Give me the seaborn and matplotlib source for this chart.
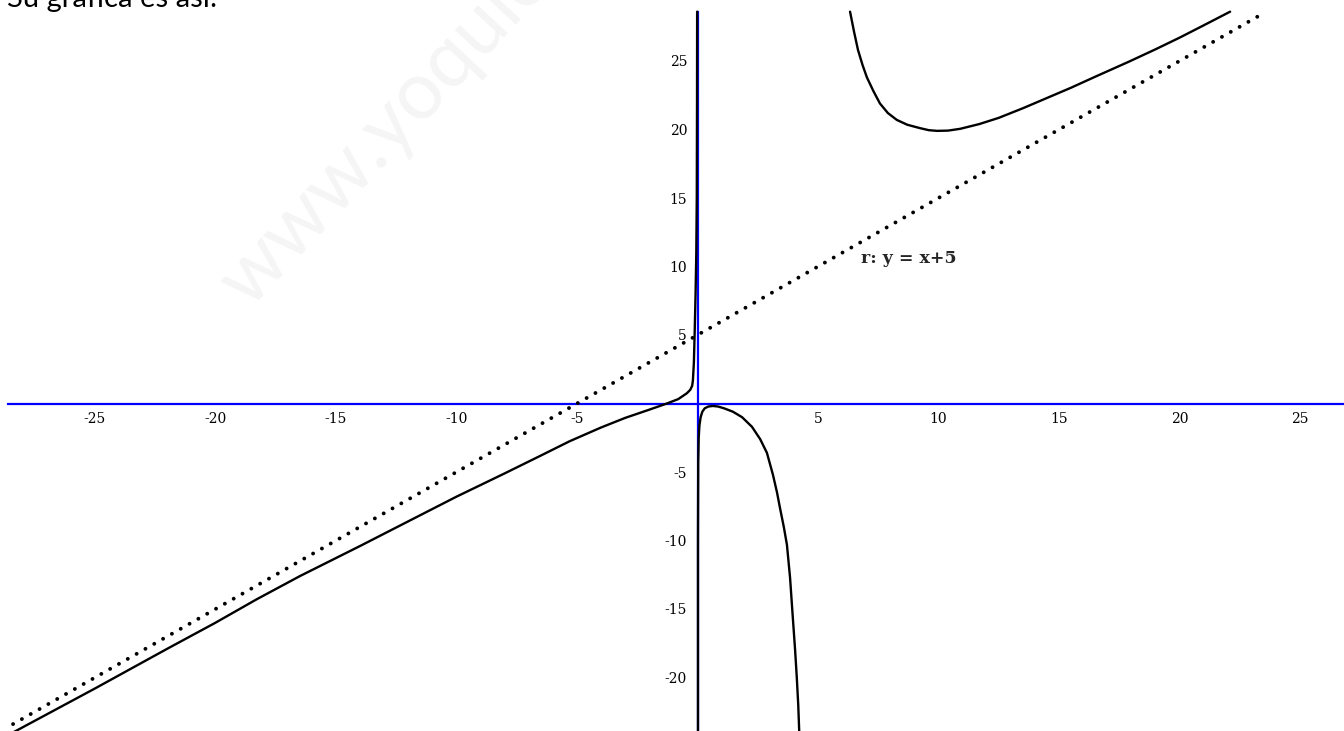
import matplotlib
matplotlib.use("Agg")
import matplotlib.pyplot as plt
import seaborn as sns
import pandas as pd

# ---- data ----
# left branch (x < 0)
left_x = [-28.6, -25.0, -22.0, -20.0, -18.3, -16.5, -14.0, -12.0, -10.0, -8.0,
          -6.5, -5.3, -4.0, -3.0, -2.0, -1.27, -0.8, -0.44, -0.3, -0.22, -0.19,
          -0.15, -0.12, -0.08, -0.05, -0.03, -0.02, -0.015]
left_y = [-24.2, -20.8, -17.9, -16.0, -14.3, -12.6, -10.4, -8.6, -6.8, -5.1,
          -3.8, -2.75, -1.75, -1.05, -0.45, 0.0, 0.32, 0.75, 1.0, 1.3, 1.7,
          3.0, 5.0, 8.0, 11.0, 15.0, 22.0, 28.6]
# lower branch (0 < x < 5)
mid_x = [0.02, 0.02, 0.03, 0.05, 0.08, 0.13, 0.2, 0.3, 0.45, 0.64, 0.85, 1.1,
         1.47, 1.85, 2.26, 2.6, 2.88, 3.13, 3.3, 3.42, 3.58, 3.71, 3.84, 3.95,
         4.05, 4.12, 4.18, 4.22]
mid_y = [-23.9, -10.0, -4.3, -2.5, -1.6, -1.0, -0.6, -0.35, -0.22, -0.18, -0.22,
         -0.35, -0.6, -1.0, -1.7, -2.6, -3.6, -5.2, -6.5, -7.6, -9.0, -10.3,
         -12.7, -15.5, -18.0, -20.0, -22.0, -23.9]
# upper branch (x > 5)
right_x = [6.33, 6.5, 6.66, 6.85, 7.03, 7.3, 7.57, 7.9, 8.27, 8.7, 9.23, 9.6,
           9.94, 10.4, 10.9, 11.7, 12.5, 13.5, 14.5, 15.5, 16.5, 17.9, 19.0,
           20.0, 21.0, 22.1]
right_y = [28.6, 27.1, 25.8, 24.7, 23.8, 22.8, 21.9, 21.2, 20.7, 20.35, 20.1,
           19.95, 19.9, 19.92, 20.05, 20.4, 20.85, 21.55, 22.3, 23.05, 23.85,
           24.95, 25.85, 26.7, 27.6, 28.6]
# oblique asymptote r: y = x + 5
asym_x = [-28.4, 23.5]
asym_y = [-23.4, 28.5]

xtick_vals = [-25, -20, -15, -10, -5, 5, 10, 15, 20, 25]
ytick_vals = [-20, -15, -10, -5, 5, 10, 15, 20, 25]
xtick_labels = ["-25", "-20", "-15", "-10", "-5", "5", "10", "15", "20", "25"]
ytick_labels = ["-20", "-15", "-10", "-5", "5", "10", "15", "20", "25"]

# ---- figure ----
sns.set_style("white")
plt.rcParams["font.family"] = ["DejaVu Serif"]

W, H = 1344, 731
fig = plt.figure(figsize=(W / 100, H / 100), dpi=100)
ax = fig.add_axes([0, 0, 1, 1])
ax.set_facecolor("white")

px_x0, sx = 697.5, 24.1   # pixel of x=0, pixels per unit
px_y0, sy = 403.5, 13.7   # pixel of y=0, pixels per unit
ax.set_xlim((0 - px_x0) / sx, (W - px_x0) / sx)
ax.set_ylim((px_y0 - H) / sy, (px_y0 - 0) / sy)

# watermark
ax.text(-19.3, 8.0, "www.yoquieroaprobar.es", rotation=47, fontsize=58,
        color="#f5f5f5", family="Lato", ha="left", va="center", zorder=0,
        rotation_mode="anchor")

# axes through origin
blue = "#0000ff"
for s in ["top", "right"]:
    ax.spines[s].set_visible(False)
ax.spines["bottom"].set_position(("data", 0))
ax.spines["left"].set_position(("data", 0))
ax.spines["bottom"].set_bounds((8 - px_x0) / sx, (W - px_x0) / sx)
ax.spines["left"].set_bounds((px_y0 - H) / sy, (px_y0 - 12) / sy)
for s in ["bottom", "left"]:
    ax.spines[s].set_color(blue)
    ax.spines[s].set_linewidth(1.6)
    ax.spines[s].set_zorder(1.5)

ax.set_xticks(xtick_vals)
ax.set_xticklabels(xtick_labels)
ax.set_yticks(ytick_vals)
ax.set_yticklabels(ytick_labels)
ax.tick_params(axis="x", direction="inout", length=11, width=1.1, colors=blue,
               labelcolor="black", labelsize=10, pad=0.5)
ax.tick_params(axis="y", direction="inout", length=13, width=1.1, colors=blue,
               labelcolor="black", labelsize=10, pad=1)

# curves
for xs, ys in [(left_x, left_y), (mid_x, mid_y), (right_x, right_y)]:
    df = pd.DataFrame({"x": xs, "y": ys})
    sns.lineplot(data=df, x="x", y="y", sort=False, estimator=None,
                 color="black", linewidth=1.7, ax=ax, zorder=3)

df_a = pd.DataFrame({"x": asym_x, "y": asym_y})
sns.lineplot(data=df_a, x="x", y="y", sort=False, estimator=None, color="black",
             linewidth=2.8, linestyle=(0, (0.01, 2.6)), dash_capstyle="round",
             ax=ax, zorder=3)

ax.set_xlabel("")
ax.set_ylabel("")

ax.text(6.8, 10.6, "r: y = x+5", fontsize=12.5, fontweight="bold",
        ha="left", va="center", family="DejaVu Serif")

fig.text(7 / W, 1 - 7 / H, "Su gráfica es así:", fontsize=21, family="Lato",
         ha="left", va="baseline", color="black")

fig.savefig("out.png", dpi=100)
